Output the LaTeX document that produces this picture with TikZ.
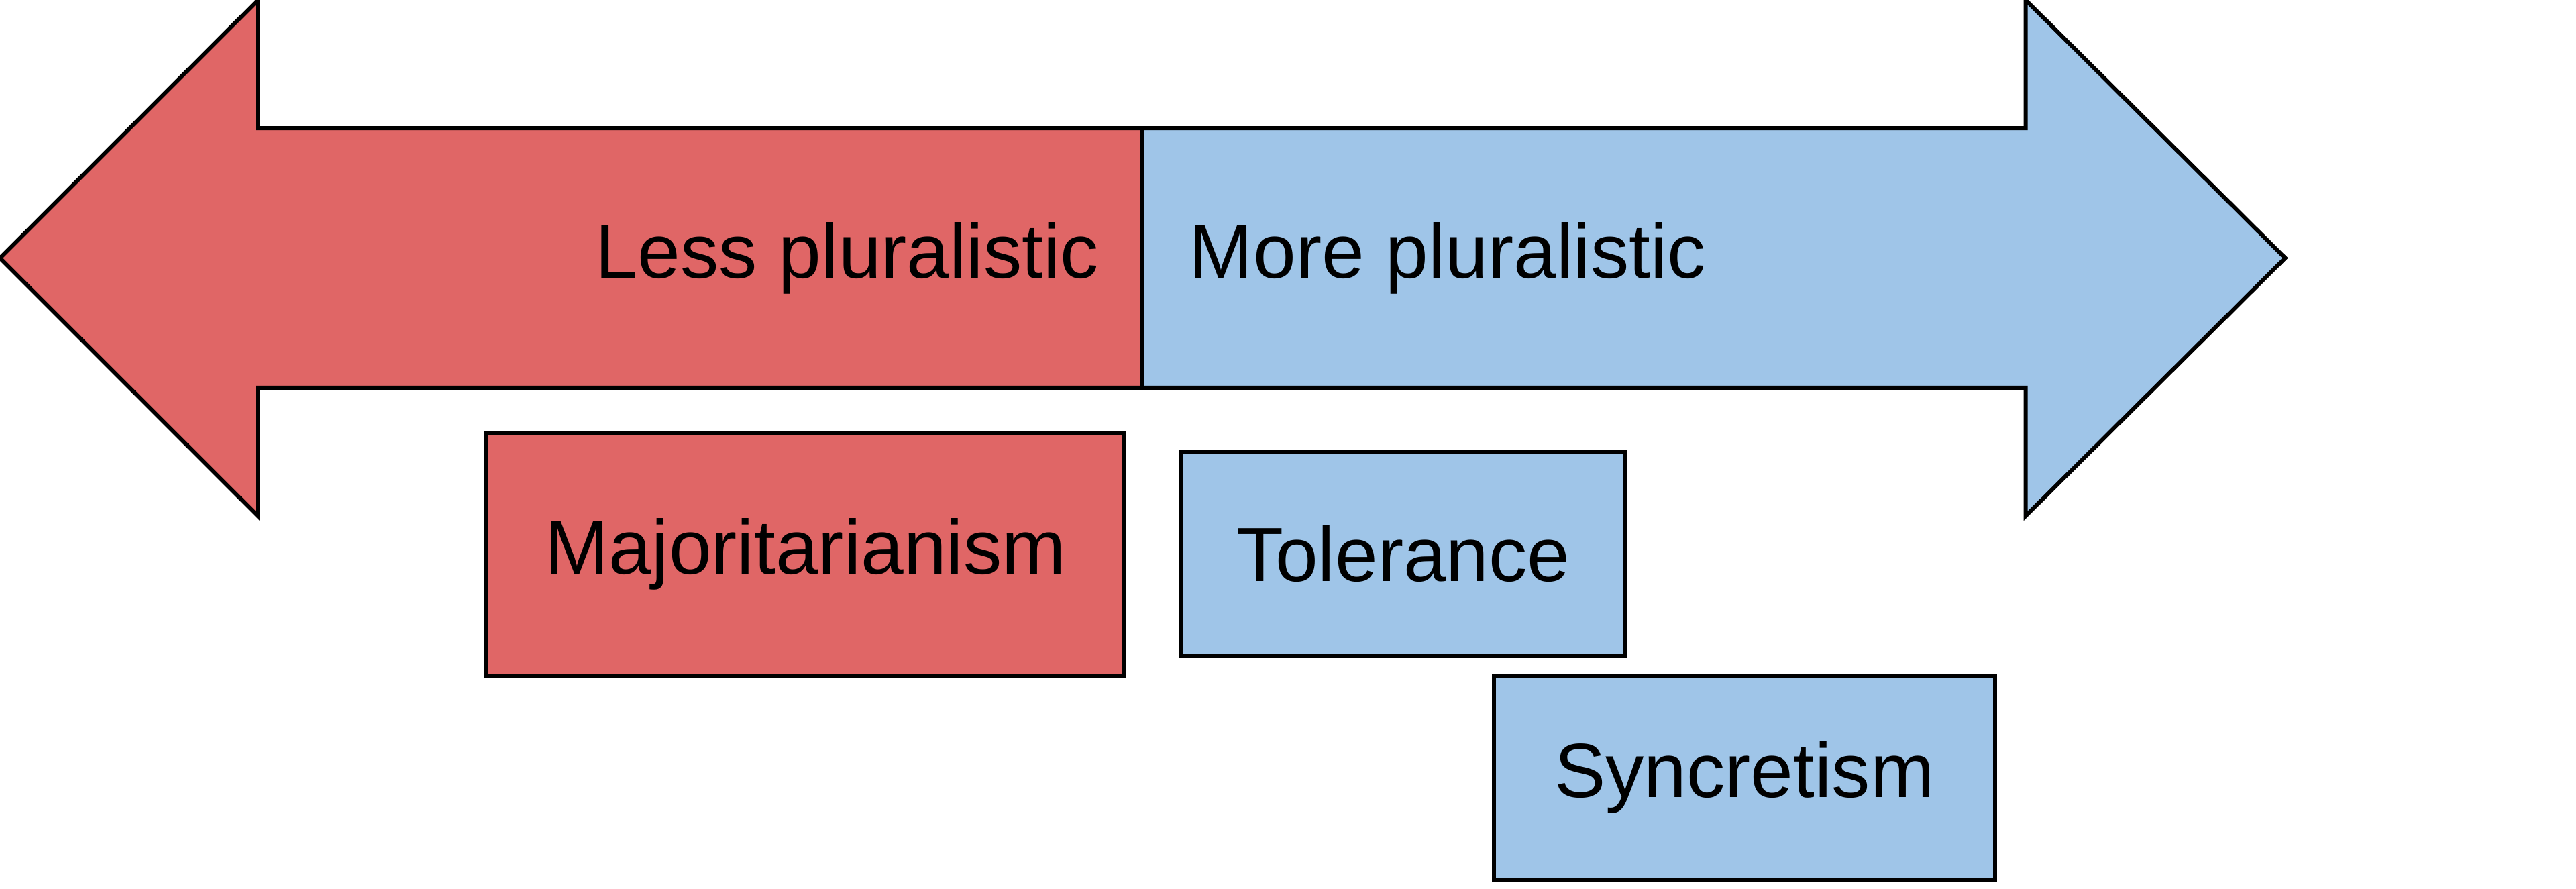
\documentclass[tikz,border=0pt]{standalone}
\usepackage{fontspec}
\setmainfont{Liberation Sans}
\definecolor{lessred}{HTML}{E06666}
\definecolor{moreblue}{HTML}{9FC5E8}
\begin{document}
\begin{tikzpicture}[x=0.01cm,y=-0.01cm,line width=0.7pt,
  lbl/.style={font=\fontsize{13.3}{16}\selectfont},
  box/.style={draw,lbl,inner sep=0pt,align=center,anchor=north west}]
  \useasboundingbox (0,0) rectangle (1568,541);
  % arrows
  \draw[fill=lessred,line join=miter] (695,78) -- (157,78) -- (157,0) -- (0,157) -- (157,314) -- (157,236) -- (695,236) -- cycle;
  \draw[fill=moreblue,line join=miter] (695,78) -- (1233,78) -- (1233,0) -- (1391,157) -- (1233,314) -- (1233,236) -- (695,236) -- cycle;
  \node[lbl,anchor=east] (less) at (682,157) {Less pluralistic};
  \node[lbl,anchor=west] (more) at (711,157) {More pluralistic};
  % boxes
  \node[box,fill=lessred,text width=3.88cm,minimum height=1.48cm] (maj) at (295,262) {Majoritarianism};
  \node[box,fill=moreblue,text width=2.70cm,minimum height=1.24cm] (tol) at (718,274) {Tolerance};
  \node[box,fill=moreblue,text width=3.05cm,minimum height=1.24cm] (syn) at (908,410) {Syncretism};
\end{tikzpicture}
\end{document}
